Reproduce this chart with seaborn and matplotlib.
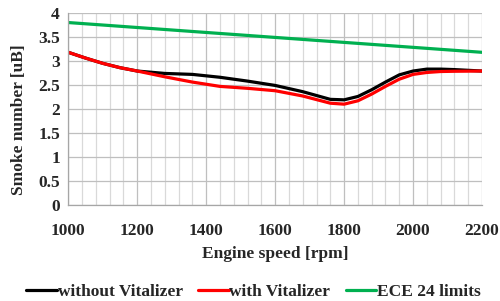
import matplotlib
matplotlib.use("Agg")
import matplotlib.pyplot as plt
import seaborn as sns
import numpy as np
import pandas as pd
from matplotlib.ticker import MultipleLocator

rpm = [1000, 1050, 1100, 1150, 1200, 1280, 1360, 1440, 1520, 1600, 1680, 1760, 1800,
       1840, 1880, 1920, 1960, 2000, 2040, 2080, 2120, 2200]
without_vit = [3.18, 3.06, 2.95, 2.86, 2.79, 2.74, 2.72, 2.66, 2.58, 2.49, 2.36, 2.2, 2.19,
               2.26, 2.4, 2.56, 2.71, 2.79, 2.83, 2.83, 2.82, 2.79]
with_vit = [3.18, 3.06, 2.95, 2.86, 2.79, 2.67, 2.56, 2.47, 2.43, 2.38, 2.27, 2.12, 2.1,
            2.17, 2.31, 2.47, 2.62, 2.72, 2.76, 2.78, 2.785, 2.79]
ece_rpm = [1000, 2200]
ece_limit = [3.8, 3.18]

sns.set_style("white")
plt.rcParams['font.family'] = ['Liberation Serif', 'DejaVu Serif']
plt.rcParams['font.weight'] = 'bold'

fig = plt.figure(figsize=(5, 3.01), dpi=100)
ax = fig.add_axes([0.1366, 0.319, 0.8274, 0.638])

sns.lineplot(x=rpm, y=without_vit, color='black', lw=2.3, ax=ax, label='without Vitalizer')
sns.lineplot(x=rpm, y=with_vit, color='#ff0000', lw=2.3, ax=ax, label='with Vitalizer')
sns.lineplot(x=ece_rpm, y=ece_limit, color='#00b050', lw=2.3, ax=ax, label='ECE 24 limits')

ax.set_xlim(1000, 2200)
ax.set_ylim(0, 4)
ax.xaxis.set_major_locator(MultipleLocator(200))
ax.xaxis.set_minor_locator(MultipleLocator(40))
ax.set_yticks([0, 0.5, 1, 1.5, 2, 2.5, 3, 3.5, 4])
ax.set_yticklabels(['0', '0.5', '1', '1.5', '2', '2.5', '3', '3.5', '4'])
ax.grid(True, which='major', color='#bfbfbf', lw=0.9)
ax.grid(True, which='minor', axis='x', color='#d9d9d9', lw=0.9)
ax.set_axisbelow(True)

for s in ['top', 'right']:
    ax.spines[s].set_visible(False)
for s in ['left', 'bottom']:
    ax.spines[s].set_color('#a6a6a6')
    ax.spines[s].set_linewidth(0.9)

ax.tick_params(axis='x', which='major', length=4, color='#a6a6a6', labelsize=12.5, pad=9)
ax.tick_params(axis='x', which='minor', length=0)
ax.tick_params(axis='y', length=4, color='#a6a6a6', labelsize=12.5, pad=2)
for lab in ax.get_xticklabels() + ax.get_yticklabels():
    lab.set_fontweight('bold')

ax.set_xlabel('Engine speed [rpm]', fontsize=12.5, fontweight='bold', labelpad=5)
ax.set_ylabel('Smoke number [uB]', fontsize=12.5, fontweight='bold')
ax.yaxis.set_label_coords(-0.1, 0.443)

ax.legend(loc='center', bbox_to_anchor=(0.448, -0.453), ncol=3, frameon=False,
          prop={'weight': 'bold', 'size': 12.5}, handlelength=1.75, handletextpad=0.05,
          columnspacing=0.9, borderaxespad=0)

fig.savefig('out.png', dpi=100)
